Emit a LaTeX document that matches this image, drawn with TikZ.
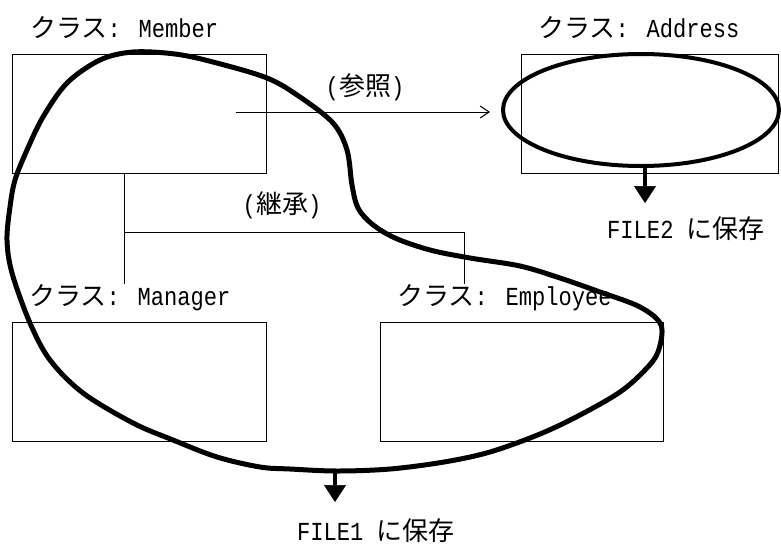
\documentclass[tikz,border=0pt]{standalone}
\usepackage{fontspec}
\setmainfont{Liberation Mono}[FakeStretch=0.85]
\newfontfamily\jp{Noto Sans CJK JP}
\usetikzlibrary{arrows.meta,shapes.geometric}
\begin{document}
\begin{tikzpicture}[x=1pt,y=-1pt,
  box/.style={draw, line width=1pt, inner sep=0pt},
  lbl/.style={inner sep=0pt, font=\fontsize{26}{30}\selectfont},
  thinline/.style={line width=1pt},
  refarrow/.style={line width=1pt, -{Straight Barb[length=9pt,width=12pt,line width=1pt]}},
  fatarrow/.style={line width=4pt, -{Triangle[length=17pt,width=22pt,line width=0.5pt]}},
  blob/.style={line width=5pt, line join=round},
  ell/.style={ellipse, draw, line width=4pt, inner sep=0pt}
]
\useasboundingbox (0,0) rectangle (781,546);

% class boxes
\node[box, minimum width=254pt, minimum height=119pt] (member) at (139,113.5) {};
\node[box, minimum width=257pt, minimum height=119pt] (address) at (649.5,113.5) {};
\node[box, minimum width=254pt, minimum height=119pt] (manager) at (139,381.5) {};
\node[box, minimum width=283pt, minimum height=119pt] (employee) at (521.5,381.5) {};

% class labels
\node[lbl, anchor=base west] (memberlbl) at (30,37) {{\jp クラス}: Member};
\node[lbl, anchor=base west] (addresslbl) at (538,37) {{\jp クラス}: Address};
\node[lbl, anchor=base west] (managerlbl) at (29,305) {{\jp クラス}: Manager};
\node[lbl, anchor=base west] (employeelbl) at (397,305) {{\jp クラス}: Employee};

% relation labels
\node[lbl] (reflbl) at (365,87) {({\jp 参照})};
\node[lbl] (inhlbl) at (282,205) {({\jp 継承})};

% file labels
\node[lbl, anchor=base west] (file2lbl) at (607,238) {FILE2 {\jp に保存}};
\node[lbl, anchor=base west] (file1lbl) at (297,540) {FILE1 {\jp に保存}};

% reference arrow
\coordinate (refstart) at (236,112);
\coordinate (refend) at (490,112);
\draw[refarrow] (refstart) -- (refend);

% inheritance lines
\coordinate (jn) at (124,232);
\coordinate (je) at (464,232);
\draw[thinline] (member.south -| jn) -- (jn |- managerlbl.north);
\draw[thinline] (jn) -- (je) -- (je |- employeelbl.north);

% ellipse around Address
\node[ell, minimum width=276pt, minimum height=112pt] (addrell) at (641,110) {};

% big blob around Member, Manager, Employee
\draw[blob] plot[smooth cycle, tension=0.55] coordinates {
  (133,52) (175,54) (213,62) (267,78) (300,97) (333,123) (347,150) (352,185)
  (358,208) (372,224) (395,238) (430,250) (470,258) (520,266) (560,278)
  (600,292) (640,307) (661,325) (658,352) (645,370) (620,392) (580,415)
  (540,434) (490,452) (444,462) (390,469) (337,471) (290,469) (260,467)
  (217,457) (173,440) (133,423) (83,393) (50,360) (30,323) (12,273)
  (7,240) (10,207) (15,180) (27,150) (43,117) (67,83) (100,60)};

% save arrows
\coordinate (f2tip) at (645,203);
\draw[fatarrow] (f2tip |- addrell.south) -- (f2tip);
\coordinate (blobbot) at (335,469);
\coordinate (f1tip) at (335,502);
\draw[fatarrow] (blobbot) -- (f1tip);
\end{tikzpicture}
\end{document}
